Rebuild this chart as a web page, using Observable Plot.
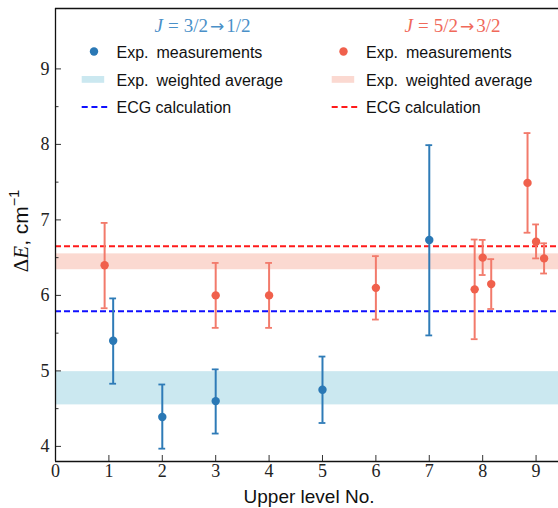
<!DOCTYPE html>
<html><head><meta charset="utf-8">
<script src="https://cdn.jsdelivr.net/npm/d3@7"></script>
<script src="https://cdn.jsdelivr.net/npm/@observablehq/plot@0.6"></script>
<style>
body{margin:0;background:#fff;}
#wrap{position:relative;width:558px;height:508px;overflow:hidden;font-family:"Liberation Sans",Arial,sans-serif;}
#wrap svg{position:absolute;left:0;top:0;}
#ylab{position:absolute;left:21px;top:231px;transform:translate(-50%,-50%) rotate(-90deg);font-size:21px;white-space:nowrap;color:#111;line-height:1;}
#ylab .m{font-family:"Liberation Serif",serif;}
#ylab sup{font-size:0.68em;line-height:0;vertical-align:0.6em;}
#xlab{position:absolute;left:309px;top:487px;transform:translateX(-50%);font-size:19px;white-space:nowrap;color:#111;line-height:1;}
</style></head><body><div id="wrap"></div>
<script>
// ---- data ----
const blueX  = [1.08, 2, 3, 5, 7];
const blueY  = [5.40, 4.39, 4.60, 4.75, 6.735];
const blueLo = [4.83, 3.97, 4.17, 4.31, 5.47];
const blueHi = [5.96, 4.82, 5.02, 5.19, 7.99];

const redX  = [0.92, 3, 4, 6, 7.85, 8.0, 8.16, 8.84, 9.0, 9.15];
const redY  = [6.40, 6.00, 6.00, 6.10, 6.08, 6.50, 6.15, 7.49, 6.71, 6.49];
const redLo = [5.83, 5.57, 5.57, 5.68, 5.42, 6.27, 5.82, 6.83, 6.49, 6.29];
const redHi = [6.96, 6.43, 6.43, 6.52, 6.74, 6.735, 6.48, 8.15, 6.94, 6.69];

const blueAvg = [4.55, 4.99];
const redAvg  = [6.34, 6.55];
const blueECG = [5.79];
const redECG  = [6.65];

const xTicks = [0, 1, 2, 3, 4, 5, 6, 7, 8, 9];
const yTicks = [4, 5, 6, 7, 8, 9];
const yMinor = [4.5, 5.5, 6.5, 7.5, 8.5];

const titleParts = [["J", "=", "3/2", "1/2"], ["J", "=", "5/2", "3/2"]];
const legendLabels = ["Exp.\u2002measurements", "Exp.\u2002weighted average", "ECG calculation"];

// ---- layout ----
const W = 558, H = 508, mL = 55, mR = 0, mT = 8, mB = 47;
const xDomain = [0, 9.42], yDomain = [3.8, 9.8];
const dpx = (xDomain[1] - xDomain[0]) / (W - mL - mR);
const dpy = (yDomain[1] - yDomain[0]) / (H - mT - mB);
const cap = 3.4 * dpx;

const blueC = "#2a78b5", blueBar = "#2e7bb7", blueBand = "#cbe8f0";
const redC = "#f0604c", redBar = "#f27a6b", redBand = "#fbd9d1";
const blueLine = "#1010ff", redLine = "#ff1a1a";

const blue = blueX.map((x, i) => ({x, y: blueY[i], lo: blueLo[i], hi: blueHi[i]}));
const red = redX.map((x, i) => ({x, y: redY[i], lo: redLo[i], hi: redHi[i]}));

function errMarks(data, barC, dotC) {
  return [
    Plot.ruleX(data, {x: "x", y1: "lo", y2: "hi", stroke: barC, strokeWidth: 2}),
    Plot.ruleY(data, {y: "hi", x1: d => d.x - cap, x2: d => d.x + cap, stroke: barC, strokeWidth: 1.8}),
    Plot.ruleY(data, {y: "lo", x1: d => d.x - cap, x2: d => d.x + cap, stroke: barC, strokeWidth: 1.8}),
    Plot.dot(data, {x: "x", y: "y", r: 4.2, fill: dotC, stroke: "none"})
  ];
}

const fmt = d => String(d);

const chart = Plot.plot({
  width: W, height: H,
  marginLeft: mL, marginRight: mR, marginTop: mT, marginBottom: mB,
  x: {domain: xDomain},
  y: {domain: yDomain},
  style: {background: "transparent"},
  marks: [
    Plot.rect([blueAvg], {x1: xDomain[0], x2: xDomain[1], y1: d => d[0], y2: d => d[1], fill: blueBand}),
    Plot.rect([redAvg], {x1: xDomain[0], x2: xDomain[1], y1: d => d[0], y2: d => d[1], fill: redBand}),
    Plot.ruleY(blueECG, {stroke: blueLine, strokeWidth: 2, strokeDasharray: "6,3"}),
    Plot.ruleY(redECG, {stroke: redLine, strokeWidth: 2, strokeDasharray: "6,3"}),
    ...errMarks(red, redBar, redC),
    ...errMarks(blue, blueBar, blueC),
    // inward ticks
    Plot.ruleY(yTicks, {x1: xDomain[0], x2: xDomain[0] + 6 * dpx, stroke: "#333", strokeWidth: 1}),
    Plot.ruleY(yMinor, {x1: xDomain[0], x2: xDomain[0] + 3.5 * dpx, stroke: "#333", strokeWidth: 1}),
    Plot.ruleX(xTicks, {y1: yDomain[0], y2: yDomain[0] + 6 * dpy, stroke: "#333", strokeWidth: 1}),
    // frame (left, bottom, top)
    Plot.ruleX([xDomain[0]], {stroke: "#111", strokeWidth: 1.3}),
    Plot.ruleY(yDomain, {stroke: "#111", strokeWidth: 1.3}),
    Plot.axisX({ticks: xTicks, tickFormat: fmt, tickSize: 0, tickPadding: 3, fontSize: 18, fill: "#222", label: null}),
    Plot.axisY({ticks: yTicks, tickFormat: fmt, tickSize: 0, tickPadding: 6, fontSize: 18, fill: "#222", label: null})
  ]
});

// serif tick labels
d3.select(chart).selectAll("text")
  .attr("font-family", "Liberation Serif")
  .style("font-family", "'Liberation Serif', serif")
  .style("font-size", "18px");

const wrap = document.getElementById("wrap");
wrap.appendChild(chart);

// ---- legend overlay ----
const lg = d3.select(wrap).append("svg").attr("width", W).attr("height", 130)
  .style("font-family", "'Liberation Sans', Arial, sans-serif");

const cols = [
  {parts: titleParts[0], tc: "#4a90c8", cx: 202.5, hx: 81.7, mx: 94, tx: 116.5, dot: blueC, band: blueBand, line: blueLine},
  {parts: titleParts[1], tc: "#f0695a", cx: 452.5, hx: 331.7, mx: 343.5, tx: 366, dot: redC, band: redBand, line: redLine}
];
const rowsBase = [57.5, 85.5, 113];
cols.forEach(c => {
  const t = lg.append("text").attr("x", c.cx).attr("y", 31.5).attr("text-anchor", "middle")
    .attr("font-family", "'Liberation Serif', serif").attr("font-size", 19).attr("fill", c.tc);
  t.append("tspan").attr("font-style", "italic").text(c.parts[0]);
  t.append("tspan").attr("dx", 5).text(c.parts[1]);
  t.append("tspan").attr("dx", 5).text(c.parts[2]);
  t.append("tspan").attr("dx", 2).attr("font-family", "'DejaVu Sans', sans-serif").attr("font-size", 17).text("\u2192");
  t.append("tspan").attr("dx", 2).text(c.parts[3]);
  lg.append("circle").attr("cx", c.mx).attr("cy", rowsBase[0] - 6).attr("r", 4.2).attr("fill", c.dot);
  lg.append("rect").attr("x", c.hx).attr("y", rowsBase[1] - 9.5).attr("width", 22.5).attr("height", 6.8).attr("fill", c.band);
  lg.append("line").attr("x1", c.hx).attr("x2", c.hx + 25.5).attr("y1", rowsBase[2] - 6).attr("y2", rowsBase[2] - 6)
    .attr("stroke", c.line).attr("stroke-width", 2).attr("stroke-dasharray", "6,3.75");
  legendLabels.forEach((s, i) => {
    lg.append("text").attr("x", c.tx).attr("y", rowsBase[i]).attr("font-size", 16).attr("fill", "#111")
      .attr("xml:space", "preserve").text(s);
  });
});

// ---- axis titles ----
const yl = document.createElement("div");
yl.id = "ylab";
yl.innerHTML = '<span class="m">\u0394<i>E</i></span>, cm<sup>\u22121</sup>';
wrap.appendChild(yl);
const xl = document.createElement("div");
xl.id = "xlab";
xl.textContent = "Upper level No.";
wrap.appendChild(xl);
</script>
</body></html>
